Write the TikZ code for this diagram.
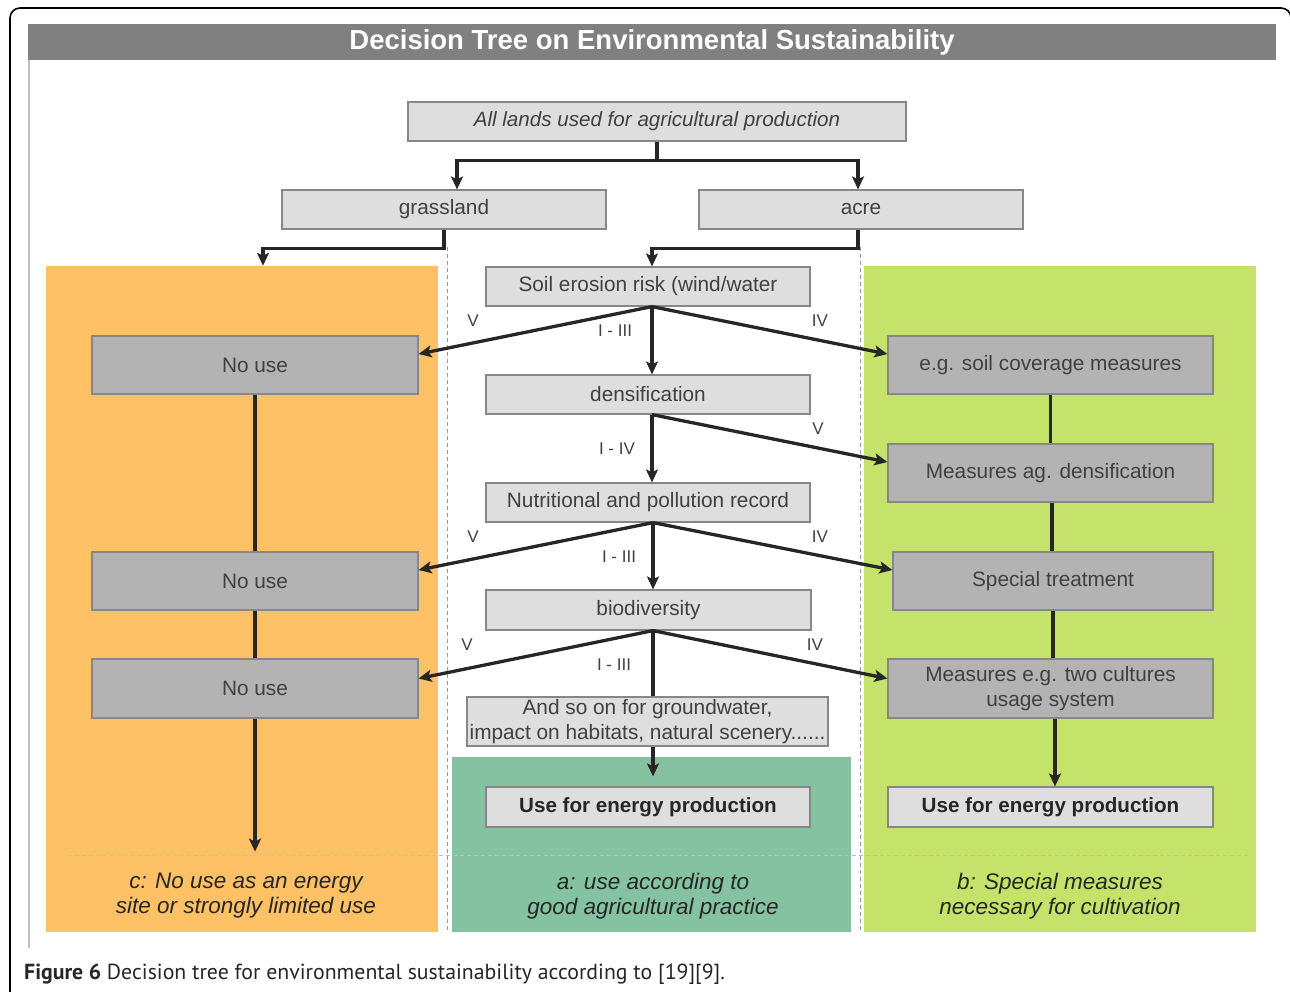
\documentclass[tikz,border=0pt]{standalone}
\usepackage{fontspec}
\setmainfont{Liberation Sans}
\newfontfamily\capfont{PT Sans}
\usepackage{tikz}
\usetikzlibrary{arrows.meta, positioning}

\definecolor{panelorange}{RGB}{254,193,102}
\definecolor{panellime}{RGB}{197,226,106}
\definecolor{panelteal}{RGB}{133,194,162}
\definecolor{boxlight}{RGB}{222,222,222}
\definecolor{boxdark}{RGB}{179,179,179}
\definecolor{boxline}{RGB}{135,135,135}
\definecolor{txtgrey}{RGB}{64,64,64}
\definecolor{arrowc}{RGB}{38,38,38}
\definecolor{titlegrey}{RGB}{128,128,128}

\tikzset{
	lightbox/.style={draw=boxline,fill=boxlight,line width=1.2pt,minimum width=324pt,minimum height=39pt,inner sep=0pt,text=txtgrey,font=\fontsize{20.8}{24}\selectfont,align=center},
	darkbox/.style={lightbox,fill=boxdark,minimum width=325pt,minimum height=58pt},
	energybox/.style={lightbox,minimum height=40pt,text=arrowc,font=\bfseries\fontsize{20.6}{24}\selectfont},
	link/.style={draw=arrowc,line width=3.3pt,-{Stealth[length=13pt,width=12pt,inset=3pt]}},
	plainlink/.style={draw=arrowc,line width=3.3pt},
	grade/.style={text=txtgrey,font=\fontsize{17}{20}\selectfont,inner sep=0pt},
	panelnote/.style={text=arrowc,font=\itshape\fontsize{22.5}{25}\selectfont,align=center,inner sep=0pt},
	divider/.style={draw=black!40,line width=1pt,dash pattern=on 4pt off 3pt}
}

\begin{document}
\begin{tikzpicture}[x=1pt,y=-1pt]
	\useasboundingbox (0,0) rectangle (1290,991);
	\clip (0,0) rectangle (1290,991);
	
	% Frame
	\draw[line width=1.6pt,rounded corners=10pt] (10,8) rectangle (1291,1010);
	\draw[black!25,line width=1.2pt] (29,60) -- (29,948);
	\node (title) at (652,42) [fill=titlegrey,minimum width=1248pt,minimum height=36pt,inner sep=0pt,text=white,font=\bfseries\fontsize{27.5}{30}\selectfont] {Decision Tree on Environmental Sustainability};
	
	% Panels
	\node (panelc) at (242,599) [fill=panelorange,minimum width=392pt,minimum height=666pt,inner sep=0pt] {};
	\node (panelb) at (1060,599) [fill=panellime,minimum width=392pt,minimum height=666pt,inner sep=0pt] {};
	\node (panela) at (651.5,844.5) [fill=panelteal,minimum width=399pt,minimum height=175pt,inner sep=0pt] {};
	\draw[divider] (447,247) -- (447,932);
	\draw[divider] (860,247) -- (860,932);
	\draw[divider,draw=black!25] (68,855) -- (1248,855);
	
	% Top of the tree
	\node (lands) at (657,121.5) [lightbox,minimum width=498pt,font=\itshape\fontsize{20.6}{24}\selectfont] {All lands used for agricultural production};
	\node (grass) at (444,209.5) [lightbox] {grassland};
	\node (acre) at (861,209.5) [lightbox] {acre};
	
	% Middle column
	\node (soil) at (648,286.5) [lightbox] {Soil erosion risk (wind/water};
	\node (dens) at (648,394.5) [lightbox] {densification};
	\node (nutr) at (648,502.5) [lightbox] {Nutritional and pollution record};
	\node (bio) at (648.5,610) [lightbox,minimum width=325pt,minimum height=40pt] {biodiversity};
	\node (andso) at (647.5,721.5) [lightbox,minimum width=361pt,minimum height=49pt,font=\fontsize{20.8}{25}\selectfont] {And so on for groundwater,\\impact on habitats, natural scenery......};
	\node (usea) at (648,807) [energybox] {Use for energy production};
	
	% Left column
	\node (nouse1) at (255,365) [darkbox,minimum width=326pt] {No use};
	\node (nouse2) at (255,581) [darkbox,minimum width=326pt] {No use};
	\node (nouse3) at (255,688.5) [darkbox,minimum width=326pt,minimum height=59pt] {No use};
	
	% Right column
	\node (soilcov) at (1050.5,365) [darkbox] {e.g. soil coverage measures};
	\node (measdens) at (1050.5,473) [darkbox] {Measures ag. densification};
	\node (special) at (1053,581) [darkbox,minimum width=320pt] {Special treatment};
	\node (twocult) at (1050.5,688.5) [darkbox,minimum height=59pt,font=\fontsize{20.8}{25}\selectfont] {Measures e.g. two cultures\\usage system};
	\node (useb) at (1050.5,807) [energybox,minimum width=325pt] {Use for energy production};
	
	% Connectors at the top
	\draw[link] (lands.south) -- ++(0,19) -| ([xshift=13pt]grass.north);
	\draw[link] (lands.south) -- ++(0,19) -| ([xshift=-3pt]acre.north);
	\draw[link] (grass.south) -- ++(0,19) -| ([xshift=21pt]panelc.north);
	\draw[link] ([xshift=-3pt]acre.south) -- ++(0,19) -| ([xshift=4pt]soil.north);
	
	% Soil erosion
	\coordinate (s) at ([xshift=4pt]soil.south);
	\draw[link] (s) -- ([yshift=11pt]nouse1.east);
	\draw[link] (s) -- ([xshift=4pt]dens.north);
	\draw[link] (s) -- ([yshift=11pt]soilcov.west);
	\node (sv) at (473,321) [grade] {V};
	\node (sm) at (615,331) [grade] {I - III};
	\node (siv) at (820,321) [grade] {IV};
	
	% Densification
	\coordinate (d) at ([xshift=4pt]dens.south);
	\draw[link] (d) -- ([xshift=4pt]nutr.north);
	\draw[link] (d) -- ([yshift=11pt]measdens.west);
	\node (dm) at (617,449) [grade] {I - IV};
	\node (dv) at (818,429) [grade] {V};
	
	% Nutrition and pollution
	\coordinate (n) at ([xshift=5pt]nutr.south);
	\draw[link] (n) -- ([yshift=11pt]nouse2.east);
	\draw[link] (n) -- ([xshift=4.5pt]bio.north);
	\draw[link] (n) -- ([yshift=11pt]special.west);
	\node (nv) at (473,537) [grade] {V};
	\node (nm) at (619,557) [grade] {I - III};
	\node (niv) at (820,537) [grade] {IV};
	
	% Biodiversity
	\coordinate (b) at ([xshift=4.5pt]bio.south);
	\draw[link] (b) -- ([yshift=10pt]nouse3.east);
	\draw[plainlink] (b) -- ([xshift=5.5pt]andso.north);
	\draw[link] (b) -- ([yshift=10pt]twocult.west);
	\node (bv) at (467,645) [grade] {V};
	\node (bm) at (614,665) [grade] {I - III};
	\node (biv) at (815,645) [grade] {IV};
	\draw[link,shorten >=10pt] ([xshift=5.5pt]andso.south) -- ([xshift=5pt]usea.north);
	
	% Left and right chains
	\coordinate (cend) at ([yshift=-133pt]nouse3.south);
	\draw[plainlink] (nouse1.south) -- (nouse2.north);
	\draw[plainlink] (nouse2.south) -- (nouse3.north);
	\draw[link] (nouse3.south) -- (cend);
	\draw[plainlink] (soilcov.south) -- (measdens.north);
	\draw[plainlink] ([xshift=1.5pt]measdens.south) -- ([xshift=-1pt]special.north);
	\draw[plainlink] (special.south) -- (special.south |- twocult.north);
	\draw[link] ([xshift=4.5pt]twocult.south) -- ([xshift=4.5pt]useb.north);
	
	% Panel notes
	\node (notec) at (246,896) [panelnote] {c: No use as an energy\\site or strongly limited use};
	\node (notea) at (653,896) [panelnote] {a: use according to\\good agricultural practice};
	\node (noteb) at (1060,896) [panelnote] {b: Special measures\\necessary for cultivation};
	
	% Caption
	\node (caption) at (24,974) [anchor=west,inner sep=0pt,font=\capfont\fontsize{21.8}{24}\selectfont,text=arrowc] {\textbf{Figure 6} Decision tree for environmental sustainability according to [19][9].};
\end{tikzpicture}
\end{document}
